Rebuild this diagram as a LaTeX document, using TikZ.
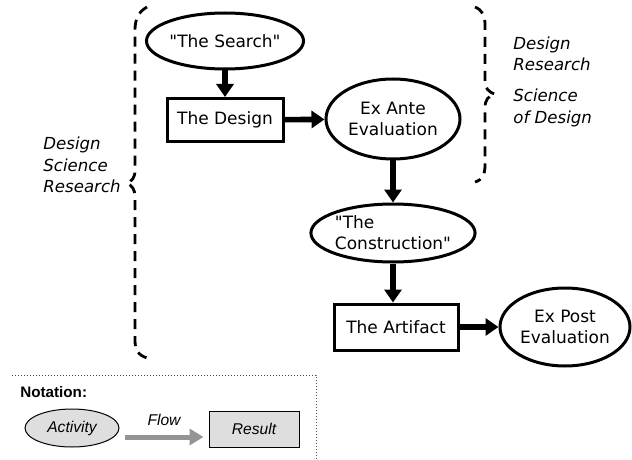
\documentclass[tikz,border=0pt]{standalone}
\usepackage{fontspec}
\setmainfont{DejaVu Sans}
\newfontfamily\notefont{Liberation Sans}
\usetikzlibrary{shapes.geometric,arrows.meta}

\tikzset{
  activity/.style={ellipse, draw, line width=1.5pt, inner sep=0pt, align=center,
    font=\fontsize{8.5}{10.5}\selectfont},
  result/.style={rectangle, draw, line width=1.5pt, inner sep=0pt,
    font=\fontsize{8.5}{10.5}\selectfont},
  flow/.style={line width=2.8pt, -{Triangle[length=6.5pt,width=8.5pt]}},
  brace/.style={dash pattern=on 5pt off 3.5pt, line width=1.4pt},
  scilabel/.style={anchor=west, align=left, inner sep=0pt,
    font=\fontsize{8.3}{10.75}\selectfont\itshape},
  noteact/.style={ellipse, draw, line width=0.5pt, fill=black!13, inner sep=0pt,
    font=\notefont\fontsize{7.8}{9}\selectfont\itshape},
  noteres/.style={rectangle, draw, line width=0.5pt, fill=black!13, inner sep=0pt,
    font=\notefont\fontsize{7.8}{9}\selectfont\itshape},
  noteflow/.style={line width=2.5pt, color=black!42, -{Triangle[length=7pt,width=8pt]}},
}

\begin{document}
\begin{tikzpicture}[x=0.5pt, y=-0.5pt]
  \useasboundingbox (0,0) rectangle (632,460);

  % activities and results
  \node[activity, minimum width=68pt, minimum height=28pt] (search) at (225,41) {\textquotedbl The Search\textquotedbl};
  \node[result, minimum width=58pt, minimum height=21.5pt] (design) at (225,120) {The Design};
  \node[activity, minimum width=67pt, minimum height=40pt] (exante) at (393,119) {Ex Ante\\Evaluation};
  \node[activity, minimum width=77pt, minimum height=29pt, align=left] (construct) at (393,233) {\textquotedbl The\\Construction\textquotedbl};
  \node[result, minimum width=62pt, minimum height=23pt] (artifact) at (396,327) {The Artifact};
  \node[activity, minimum width=65pt, minimum height=39pt] (expost) at (565,327) {Ex Post\\Evaluation};

  \draw[flow] (search) -- (design);
  \draw[flow] (design) -- (exante);
  \draw[flow] (exante) -- (construct);
  \draw[flow] (construct.south) -- (construct.south |- artifact.north);
  \draw[flow] (artifact) -- (expost);

  % braces
  \draw[brace] (147,7) .. controls (138,12) and (135,20) .. (135,30) -- (135,170)
    .. controls (135,178) and (132,181) .. (127,183)
    .. controls (132,186) and (135,189) .. (135,197) -- (135,340)
    .. controls (135,350) and (138,355) .. (147,358);
  \draw[brace] (475,7) .. controls (482,10) and (485,15) .. (485,25) -- (485,80)
    .. controls (485,88) and (488,92) .. (495,94)
    .. controls (488,96) and (485,100) .. (485,108) -- (485,165)
    .. controls (485,175) and (482,180) .. (475,182);

  \node[scilabel] (dsr) at (43,165) {Design\\Science\\Research};
  \node[scilabel] (dr) at (513,54) {Design\\Research};
  \node[scilabel] (sod) at (513,108) {Science\\of Design};

  % notation
  \draw[densely dotted, line width=0.5pt, black!70] (12,375) -- (316,375) -- (316,460);
  \node[anchor=west, inner sep=0pt, font=\notefont\fontsize{7.6}{9}\selectfont\bfseries] (notation) at (20,392) {Notation:};
  \node[noteact, minimum width=47pt, minimum height=19pt] (activity) at (72,428) {Activity};
  \node[noteres, minimum width=45pt, minimum height=18pt] (result) at (254,429) {Result};
  \draw[noteflow] ([xshift=2.5pt,yshift=-4.5pt]activity.east) -- ([xshift=-2.5pt,yshift=-4pt]result.west)
    node[midway, above=1pt, black, font=\notefont\fontsize{7.8}{9}\selectfont\itshape] {Flow};
\end{tikzpicture}
\end{document}
